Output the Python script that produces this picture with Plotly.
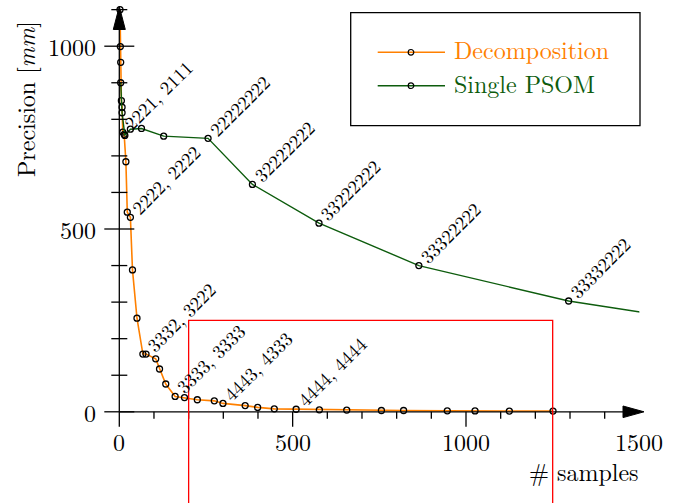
import plotly.graph_objects as go

# ---------------- data ----------------
dec_x = [2, 3, 4, 6, 8, 10, 14, 19, 23, 32, 38, 51, 68, 77, 105, 116, 134, 161, 188,
         225, 274, 299, 363, 399, 447, 510, 577, 656, 756, 820, 946, 1026, 1125, 1251]
dec_y = [1100, 999, 956, 851, 833, 765, 759, 684, 546, 532, 388, 256, 158, 158, 145, 117,
         76, 42, 39, 33, 30, 23, 17, 12, 8, 7, 5.5, 4.6, 3.5, 3.5, 2.7, 2.5, 2, 2]

psom_x = [4, 8, 16, 32, 64, 128, 256, 384, 576, 864, 1296, 1944]
psom_y = [900, 818, 756, 773, 775, 754, 748, 622, 516, 400, 303, 208]

dec_label_x = [10, 32, 77, 161, 299, 510]
dec_labels = ["2221, 2111", "2222, 2222", "3332, 3222", "3333, 3333", "4443, 4333", "4444, 4444"]
psom_label_x = [256, 384, 576, 864, 1296]
psom_labels = ["22222222", "32222222", "33222222", "33322222", "33332222"]

x_major = [0, 500, 1000, 1500]
x_major_ticks = [0, 500, 1000]
x_minor = [100, 200, 300, 400, 600, 700, 800, 900, 1100, 1200, 1300, 1400]
y_major = [0, 500, 1000]
y_minor = [100, 200, 300, 400, 600, 700, 800, 900, 1100]

ORANGE = "#ff8000"
GREEN = "#0d5c0d"
FONT = "Latin Modern Roman"

# ---------------- geometry helpers ----------------
W, H = 693, 503
X0PX, SX = 119.3, 0.3467
Y0PX, SY = 411.8, 0.3656
XR = [-30, 1500]
YR = [-20, 1110]


def dxp(v):
    return X0PX + v * SX


def dyp(v):
    return Y0PX - v * SY


def px(p):
    return p / W


def py(p):
    return 1 - p / H


fig = go.Figure()

fig.add_trace(go.Scatter(
    x=dec_x, y=dec_y, mode="lines+markers", name="Decomposition",
    line=dict(color=ORANGE, width=1.6),
    marker=dict(symbol="circle-open", size=6, color="black", line=dict(width=1.3)),
    cliponaxis=False))
fig.add_trace(go.Scatter(
    x=psom_x, y=psom_y, mode="lines+markers", name="Single PSOM",
    line=dict(color=GREEN, width=1.4),
    marker=dict(symbol="circle-open", size=6, color="black", line=dict(width=1.3)),
    cliponaxis=True))

shapes = []
LW = 1.3
# axis lines
shapes.append(dict(type="line", xref="paper", yref="paper",
                   x0=px(dxp(0)), x1=px(632), y0=py(dyp(0)), y1=py(dyp(0)),
                   line=dict(color="black", width=LW)))
shapes.append(dict(type="line", xref="paper", yref="paper",
                   x0=px(dxp(0)), x1=px(dxp(0)), y0=py(dyp(0)), y1=py(18),
                   line=dict(color="black", width=LW)))
# arrowheads
tx, ty = 644, dyp(0)
shapes.append(dict(type="path", xref="paper", yref="paper",
                   path=f"M {px(tx)} {py(ty)} L {px(tx-21)} {py(ty-5.8)} L {px(tx-21)} {py(ty+5.8)} Z",
                   fillcolor="black", line=dict(color="black", width=1)))
ax_, ay_ = dxp(0), 6.5
shapes.append(dict(type="path", xref="paper", yref="paper",
                   path=f"M {px(ax_)} {py(ay_)} L {px(ax_-6)} {py(ay_+23)} L {px(ax_+6)} {py(ay_+23)} Z",
                   fillcolor="black", line=dict(color="black", width=1)))
# ticks
for v in x_major_ticks:
    shapes.append(dict(type="line", xref="paper", yref="paper",
                       x0=px(dxp(v)), x1=px(dxp(v)), y0=py(dyp(0)), y1=py(dyp(0) + 15),
                       line=dict(color="black", width=LW)))
for v in x_minor:
    shapes.append(dict(type="line", xref="paper", yref="paper",
                       x0=px(dxp(v)), x1=px(dxp(v)), y0=py(dyp(0)), y1=py(dyp(0) + 7),
                       line=dict(color="black", width=LW)))
for v in y_major:
    shapes.append(dict(type="line", xref="paper", yref="paper",
                       x0=px(dxp(0) - 15), x1=px(dxp(0) + 15), y0=py(dyp(v)), y1=py(dyp(v)),
                       line=dict(color="black", width=LW)))
for v in y_minor:
    shapes.append(dict(type="line", xref="paper", yref="paper",
                       x0=px(dxp(0) - 8), x1=px(dxp(0) + 8), y0=py(dyp(v)), y1=py(dyp(v)),
                       line=dict(color="black", width=LW)))
# red zoom rectangle
shapes.append(dict(type="rect", xref="paper", yref="paper",
                   x0=px(dxp(200)), x1=px(dxp(1250)), y0=py(dyp(250)), y1=py(dyp(-300)),
                   line=dict(color="#ff0000", width=1.3), fillcolor="rgba(0,0,0,0)"))
# legend box
shapes.append(dict(type="rect", xref="paper", yref="paper",
                   x0=px(350.7), x1=px(640), y0=py(12.7), y1=py(125.7),
                   line=dict(color="black", width=1.3), fillcolor="white"))
for yy, col in [(52.3, ORANGE), (85.7, GREEN)]:
    shapes.append(dict(type="line", xref="paper", yref="paper",
                       x0=px(377.7), x1=px(445), y0=py(yy), y1=py(yy),
                       line=dict(color=col, width=1.5)))
    shapes.append(dict(type="circle", xref="paper", yref="paper",
                       x0=px(411 - 2.8), x1=px(411 + 2.8), y0=py(yy - 2.8), y1=py(yy + 2.8),
                       line=dict(color="black", width=1.2)))

annotations = []
# x tick labels
for v in x_major:
    annotations.append(dict(text=str(v), xref="paper", yref="paper", x=px(dxp(v)), y=py(441),
                            xanchor="center", yanchor="middle", showarrow=False,
                            font=dict(family=FONT, size=24, color="black")))
for v in y_major:
    annotations.append(dict(text=str(v), xref="paper", yref="paper", x=px(97.5), y=py(dyp(v)),
                            xanchor="right", yanchor="middle", showarrow=False,
                            font=dict(family=FONT, size=24, color="black")))
annotations.append(dict(text="# samples", xref="paper", yref="paper", x=px(641), y=py(471),
                        xanchor="right", yanchor="middle", showarrow=False,
                        font=dict(family=FONT, size=24, color="black")))
annotations.append(dict(text="Precision [<i>mm</i>]", xref="paper", yref="paper", x=px(25), y=py(99),
                        xanchor="center", yanchor="middle", textangle=-90, showarrow=False,
                        font=dict(family=FONT, size=24, color="black")))
# legend text
annotations.append(dict(text="Decomposition", xref="paper", yref="paper", x=px(452), y=py(49),
                        xanchor="left", yanchor="middle", showarrow=False,
                        font=dict(family=FONT, size=24, color=ORANGE)))
annotations.append(dict(text="Single PSOM", xref="paper", yref="paper", x=px(452), y=py(83.5),
                        xanchor="left", yanchor="middle", showarrow=False,
                        font=dict(family=FONT, size=24, color=GREEN)))
# point labels
for xs, labs, xv, yv in [(dec_label_x, dec_labels, dec_x, dec_y),
                         (psom_label_x, psom_labels, psom_x, psom_y)]:
    for lx, lt in zip(xs, labs):
        ly = yv[xv.index(lx)]
        annotations.append(dict(text=lt, xref="x", yref="y", x=lx, y=ly,
                                xanchor="left", yanchor="bottom", textangle=-45,
                                xshift=-8, yshift=-6, showarrow=False,
                                font=dict(family=FONT, size=19, color="black")))

fig.update_layout(
    width=W, height=H, margin=dict(l=0, r=0, t=0, b=0),
    paper_bgcolor="white", plot_bgcolor="rgba(0,0,0,0)",
    showlegend=False,
    xaxis=dict(range=XR, domain=[px(dxp(XR[0])), px(dxp(XR[1]))], visible=False),
    yaxis=dict(range=YR, domain=[py(dyp(YR[0])), py(dyp(YR[1]))], visible=False),
    shapes=shapes, annotations=annotations,
    font=dict(family=FONT),
)

fig.write_html("out.html")
